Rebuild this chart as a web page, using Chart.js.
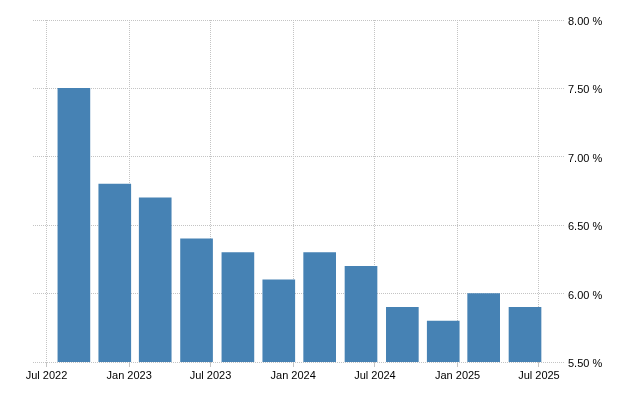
<!DOCTYPE html>
<html>
<head>
<meta charset="utf-8">
<script src="https://cdn.jsdelivr.net/npm/chart.js@4/dist/chart.umd.min.js"></script>
<style>
  html, body { margin: 0; padding: 0; background: #fff; }
  #wrap { width: 640px; height: 400px; }
</style>
</head>
<body>
<div id="wrap"><canvas id="chart" width="640" height="400"></canvas></div>
<script>
// ─── DATA ───────────────────────────────────────────────────────────────────
const periods = ['2022-08-31', '2022-11-30', '2023-02-28', '2023-05-31',
                 '2023-08-31', '2023-11-30', '2024-02-29', '2024-05-31',
                 '2024-08-31', '2024-11-30', '2025-02-28', '2025-05-31'];
const rates = [7.5, 6.8, 6.7, 6.4, 6.3, 6.1, 6.3, 6.2, 5.9, 5.8, 6.0, 5.9];
const tickDates = ['2022-07-01', '2023-01-01', '2023-07-01', '2024-01-01',
                   '2024-07-01', '2025-01-01', '2025-07-01'];
const tickLabels = ['Jul 2022', 'Jan 2023', 'Jul 2023', 'Jan 2024',
                    'Jul 2024', 'Jan 2025', 'Jul 2025'];
const yTicks = [5.5, 6.0, 6.5, 7.0, 7.5, 8.0];

// ─── UTILITIES ───────────────────────────────────────────────────────────────
const day = s => Date.parse(s + 'T00:00:00Z');
const points = periods.map((p, i) => ({ x: day(p), y: rates[i] }));
const tickVals = tickDates.map(day);

Chart.defaults.font.family = "'Liberation Sans', Arial, sans-serif";
Chart.defaults.font.size = 11;
Chart.defaults.color = '#000';

const gridColor = '#c4c4c4';

new Chart(document.getElementById('chart').getContext('2d'), {
  type: 'bar',
  data: {
    datasets: [{
      data: points,
      backgroundColor: '#4682b4',
      borderWidth: 0,
      barThickness: 32,
    }]
  },
  options: {
    responsive: false,
    animation: false,
    devicePixelRatio: 1,
    layout: { padding: { left: 33, top: 20, right: 0, bottom: 0 } },
    plugins: { legend: { display: false }, tooltip: { enabled: false } },
    scales: {
      x: {
        type: 'linear',
        min: day('2022-06-01'),
        max: day('2025-08-28'),
        offset: false,
        afterBuildTicks: s => { s.ticks = tickVals.map(v => ({ value: v })); },
        afterFit: s => { s.height = 38; },
        grid: { color: gridColor, tickLength: 5, drawTicks: true, offset: false },
        border: { display: false, dash: [1, 1] },
        ticks: {
          padding: 2,
          maxRotation: 0,
          autoSkip: false,
          callback: v => tickLabels[tickVals.indexOf(v)] ?? '',
        },
      },
      y: {
        position: 'right',
        min: 5.5,
        max: 8,
        afterBuildTicks: s => { s.ticks = yTicks.map(v => ({ value: v })); },
        afterFit: s => { s.width = 75; },
        grid: { color: gridColor, drawTicks: false },
        border: { display: false, dash: [1, 1] },
        ticks: {
          padding: 3,
          labelOffset: 2,
          callback: v => `${Number(v).toFixed(2)} %`,
        },
      },
    },
  },
});
</script>
</body>
</html>
